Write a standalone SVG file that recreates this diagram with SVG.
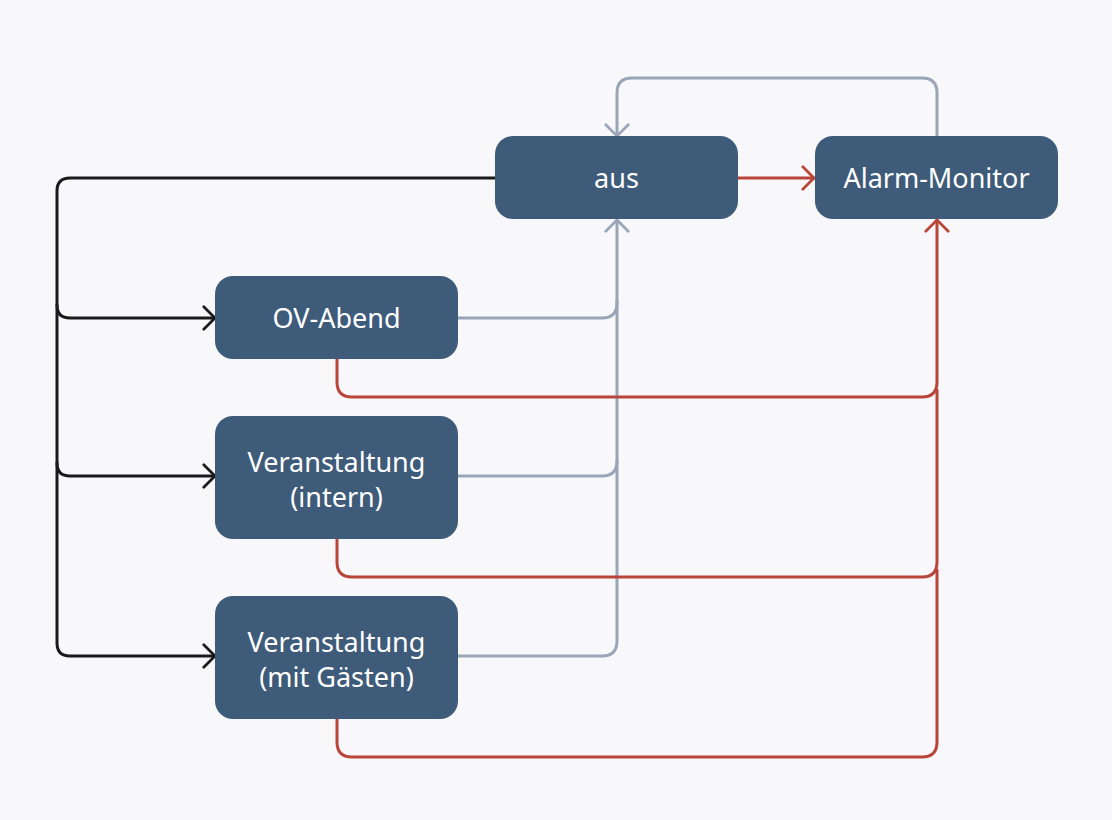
<svg xmlns="http://www.w3.org/2000/svg" width="1112" height="820" viewBox="0 0 1112 820">
<style>
.bg{fill:#f8f8fb}
.node rect{fill:#3e5b7a}
.node text{fill:#ffffff;font-family:"Noto Sans","Open Sans","DejaVu Sans",sans-serif;font-size:27px;text-anchor:middle}
.c{fill:none;stroke-width:3;stroke-linecap:round;stroke-linejoin:round}
.k{stroke:#1a1a1a}
.g{stroke:#9aa5b8}
.r{stroke:#b94539}
</style>
<defs>
<marker id="ak" markerUnits="userSpaceOnUse" markerWidth="30" markerHeight="30" viewBox="-16 -16 32 32" refX="0" refY="0" orient="auto"><path d="M-12,-12 L0,0 L-12,12" fill="none" stroke="#1a1a1a" stroke-width="3" stroke-linecap="round" stroke-linejoin="round"/></marker>
<marker id="ag" markerUnits="userSpaceOnUse" markerWidth="30" markerHeight="30" viewBox="-16 -16 32 32" refX="0" refY="0" orient="auto"><path d="M-12,-12 L0,0 L-12,12" fill="none" stroke="#9aa5b8" stroke-width="3" stroke-linecap="round" stroke-linejoin="round"/></marker>
<marker id="ar" markerUnits="userSpaceOnUse" markerWidth="30" markerHeight="30" viewBox="-16 -16 32 32" refX="0" refY="0" orient="auto"><path d="M-12,-12 L0,0 L-12,12" fill="none" stroke="#b94539" stroke-width="3" stroke-linecap="round" stroke-linejoin="round"/></marker>
</defs>
<rect class="bg" x="0" y="0" width="1112" height="820"/>
<g id="connectors">
<path class="c k" d="M497,178 H70 Q57,178 57,191 V643 Q57,656 70,656 H215" marker-end="url(#ak)"/>
<path class="c k" d="M57,305 Q57,318 70,318 H215" marker-end="url(#ak)"/>
<path class="c k" d="M57,463 Q57,476 70,476 H215" marker-end="url(#ak)"/>
<path class="c g" d="M458,318 H602 Q617,318 617,303 V220" marker-end="url(#ag)"/>
<path class="c g" d="M458,476 H602 Q617,476 617,461 V300"/>
<path class="c g" d="M458,656 H602 Q617,656 617,641 V460"/>
<path class="c g" d="M937,136 V93 Q937,78 922,78 H632 Q617,78 617,93 V136" marker-end="url(#ag)"/>
<path class="c r" d="M738,178 H814" marker-end="url(#ar)"/>
<path class="c r" d="M337,359 V382 Q337,397 352,397 H922 Q937,397 937,382 V220" marker-end="url(#ar)"/>
<path class="c r" d="M337,539 V562 Q337,577 352,577 H922 Q937,577 937,562 V390"/>
<path class="c r" d="M337,719 V742 Q337,757 352,757 H922 Q937,757 937,742 V570"/>
</g>
<g id="aus" class="node"><rect x="495" y="136" width="243" height="83" rx="18"/><text x="616.5" y="188">aus</text></g>
<g id="alarm-monitor" class="node"><rect x="815" y="136" width="243" height="83" rx="18"/><text x="936.5" y="188">Alarm-Monitor</text></g>
<g id="ov-abend" class="node"><rect x="215" y="276" width="243" height="83" rx="18"/><text x="336.5" y="328">OV-Abend</text></g>
<g id="veranstaltung-intern" class="node"><rect x="215" y="416" width="243" height="123" rx="18"/><text x="336.5" y="472">Veranstaltung</text><text x="336.5" y="507">(intern)</text></g>
<g id="veranstaltung-gaeste" class="node"><rect x="215" y="596" width="243" height="123" rx="18"/><text x="336.5" y="652">Veranstaltung</text><text x="336.5" y="687">(mit Gästen)</text></g>
</svg>
